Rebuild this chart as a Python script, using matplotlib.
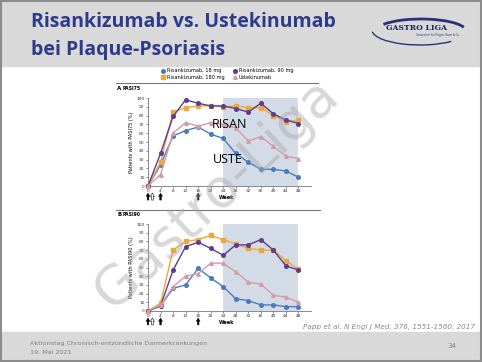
import matplotlib
matplotlib.use("Agg")
import matplotlib.pyplot as plt
from matplotlib.patches import Rectangle, Arc

# data (weeks vs % of patients)
weeks = [0, 4, 8, 12, 16, 20, 24, 28, 32, 36, 40, 44, 48]
series_names = ["Risankizumab, 18 mg", "Risankizumab, 180 mg", "Risankizumab, 90 mg", "Ustekinumab"]

pasi75_risa18 = [0, 24, 57, 63, 67, 59, 54, 37, 27, 19, 19, 17, 10]
pasi75_risa180 = [0, 27, 84, 89, 91, 91, 90, 91, 89, 89, 80, 73, 75]
pasi75_risa90 = [0, 37, 79, 98, 94, 91, 91, 88, 84, 94, 82, 75, 71]
pasi75_uste = [0, 13, 60, 72, 68, 72, 70, 66, 51, 56, 45, 34, 31]

pasi90_risa18 = [0, 6, 26, 30, 49, 38, 28, 14, 12, 7, 7, 5, 5]
pasi90_risa180 = [0, 9, 70, 80, 82, 87, 82, 77, 72, 70, 70, 58, 48]
pasi90_risa90 = [0, 6, 47, 74, 79, 72, 64, 76, 76, 82, 70, 52, 47]
pasi90_uste = [0, 7, 28, 40, 43, 55, 55, 45, 33, 31, 18, 16, 10]

dose_weeks = [0, 4, 16]

colors = ["#4a7bc0", "#f0a73a", "#5c3d92", "#d79aa9"]
markers = ["o", "s", "o", "^"]

W, H = 482, 362
fig = plt.figure(figsize=(W / 100, H / 100), dpi=100)


def box(x0, y0, x1, y1):
    # pixel box -> figure fraction rect
    return [x0 / W, 1 - y1 / H, (x1 - x0) / W, (y1 - y0) / H]


# background / slide frame
bg = fig.add_axes([0, 0, 1, 1])
bg.set_xlim(0, W)
bg.set_ylim(H, 0)
bg.axis("off")
bg.add_patch(Rectangle((0, 0), W, H, color="white", zorder=0))
bg.add_patch(Rectangle((0, 0), W, 66, color="#d9d9d9", zorder=1))
bg.add_patch(Rectangle((0, 332), W, 30, color="#d9d9d9", zorder=1))
bg.add_patch(Rectangle((1, 1), W - 2, H - 2, fill=False, ec="#8c8c8c", lw=1.5, zorder=5))

title_blue = "#2e3b8c"
bg.text(31, 22, "Risankizumab vs. Ustekinumab", fontsize=14, color=title_blue,
        family="Open Sans", weight="bold", va="center", ha="left", zorder=3)
bg.text(31, 50, "bei Plaque-Psoriasis", fontsize=14, color=title_blue,
        family="Open Sans", weight="bold", va="center", ha="left", zorder=3)

# logo
bg.add_patch(Arc((420, 30), 96, 30, theta1=20, theta2=178, color="#2b2f7a", lw=1.0, zorder=3))
bg.add_patch(Arc((421, 31), 90, 24, theta1=190, theta2=355, color="#2b2f7a", lw=2.0, zorder=3))
bg.text(416, 28, "GASTRO LIGA", fontsize=5.5, family="DejaVu Serif", weight="bold",
        color="#1f2255", ha="center", va="center", zorder=3)
bg.text(438, 35, "Gesundheit für Magen, Darm & Co.", fontsize=1.8, color="#2b2f7a",
        ha="center", va="center", zorder=3)

# footer
grey = "#7f7f7f"
bg.text(30, 344, "Aktionstag Chronisch-entzündliche Darmerkrankungen", fontsize=4.6, color=grey,
        va="center", zorder=3)
bg.text(30, 352, "19. Mai 2021", fontsize=4.6, color=grey, va="center", zorder=3)
bg.text(452, 346, "34", fontsize=5, color=grey, ha="center", va="center", zorder=3)
bg.text(475, 327, "Papp et al. N Engl J Med. 376, 1551-1560, 2017", fontsize=5.2, color="#8a8a8a",
        style="italic", ha="right", va="center", zorder=3)

# separator lines of the figure
bg.plot([116, 318], [83, 83], color="#777777", lw=0.8, zorder=3)
bg.plot([116, 320], [210, 210], color="#777777", lw=0.8, zorder=3)
bg.text(117, 89, "A", fontsize=4, weight="bold", va="center", zorder=3)
bg.text(123, 89, "PASI75", fontsize=3.3, weight="bold", va="center", zorder=3)
bg.text(117, 215, "B", fontsize=4, weight="bold", va="center", zorder=3)
bg.text(123, 215, "PASI90", fontsize=3.3, weight="bold", va="center", zorder=3)

arrow_style = "simple,head_length=0.6,head_width=0.7,tail_width=0.3"


def panel(rect, vals, ylab):
    ax = fig.add_axes(rect)
    ax.set_xlim(0, 52)
    ax.set_ylim(0, 100)
    ax.patch.set_alpha(0)
    ax.axvspan(24, 48, ymin=0, ymax=1, color="#d3dce6", lw=0, zorder=0)
    for v, c, m, n in zip(vals, colors, markers, series_names):
        ax.plot(weeks, v, color=c, marker=m, markersize=2.6, lw=1.0, label=n,
                clip_on=False, zorder=3)
    for s in ["top", "right"]:
        ax.spines[s].set_visible(False)
    for s in ["left", "bottom"]:
        ax.spines[s].set_color("#777777")
        ax.spines[s].set_linewidth(0.6)
    ax.set_xticks(weeks)
    ax.set_yticks(range(0, 101, 10))
    ax.tick_params(labelsize=3.2, length=1.5, width=0.4, pad=1, colors="#333333")
    ax.set_ylabel(ylab, fontsize=3.6, labelpad=2)
    ax.text(25, -13, "Week", fontsize=3.6, weight="bold", ha="center", va="center")
    # dosing arrows
    for w in dose_weeks:
        ax.annotate("", xy=(w, -8), xytext=(w, -16), xycoords="data",
                    arrowprops=dict(arrowstyle=arrow_style, fc="black", ec="black", lw=0.3,
                                    mutation_scale=4, shrinkA=0, shrinkB=0),
                    annotation_clip=False)
    ax.annotate("", xy=(1.4, -8), xytext=(1.4, -16), xycoords="data",
                arrowprops=dict(arrowstyle=arrow_style, fc="white", ec="black", lw=0.4,
                                mutation_scale=4, shrinkA=0, shrinkB=0),
                annotation_clip=False)
    return ax


axA = panel(box(148, 98, 311, 186), [pasi75_risa18, pasi75_risa180, pasi75_risa90, pasi75_uste],
            "Patients with PASI75 (%)")
axB = panel(box(148, 224, 311, 311), [pasi90_risa18, pasi90_risa180, pasi90_risa90, pasi90_uste],
            "Patients with PASI90 (%)")

axA.text(26, 70, "RISAN", fontsize=9, family="Open Sans", va="center", ha="center", zorder=4)
axA.text(25.5, 30, "USTE", fontsize=9, family="Open Sans", va="center", ha="center", zorder=4)

handles, labels = axA.get_legend_handles_labels()
fig.legend(handles, labels, ncol=2, loc="center", bbox_to_anchor=(228 / W, 1 - 74 / H),
           fontsize=3.6, frameon=False, handlelength=0, handletextpad=0.8,
           columnspacing=2.0, labelspacing=0.3, markerscale=1.0)

# watermark
fig.text(216 / W, 1 - 194 / H, "Gastro-Liga", fontsize=39, color="#a8a8a8", alpha=0.45,
         rotation=43, ha="center", va="center", family="DejaVu Sans", zorder=10)

fig.savefig("out.png", dpi=100)
